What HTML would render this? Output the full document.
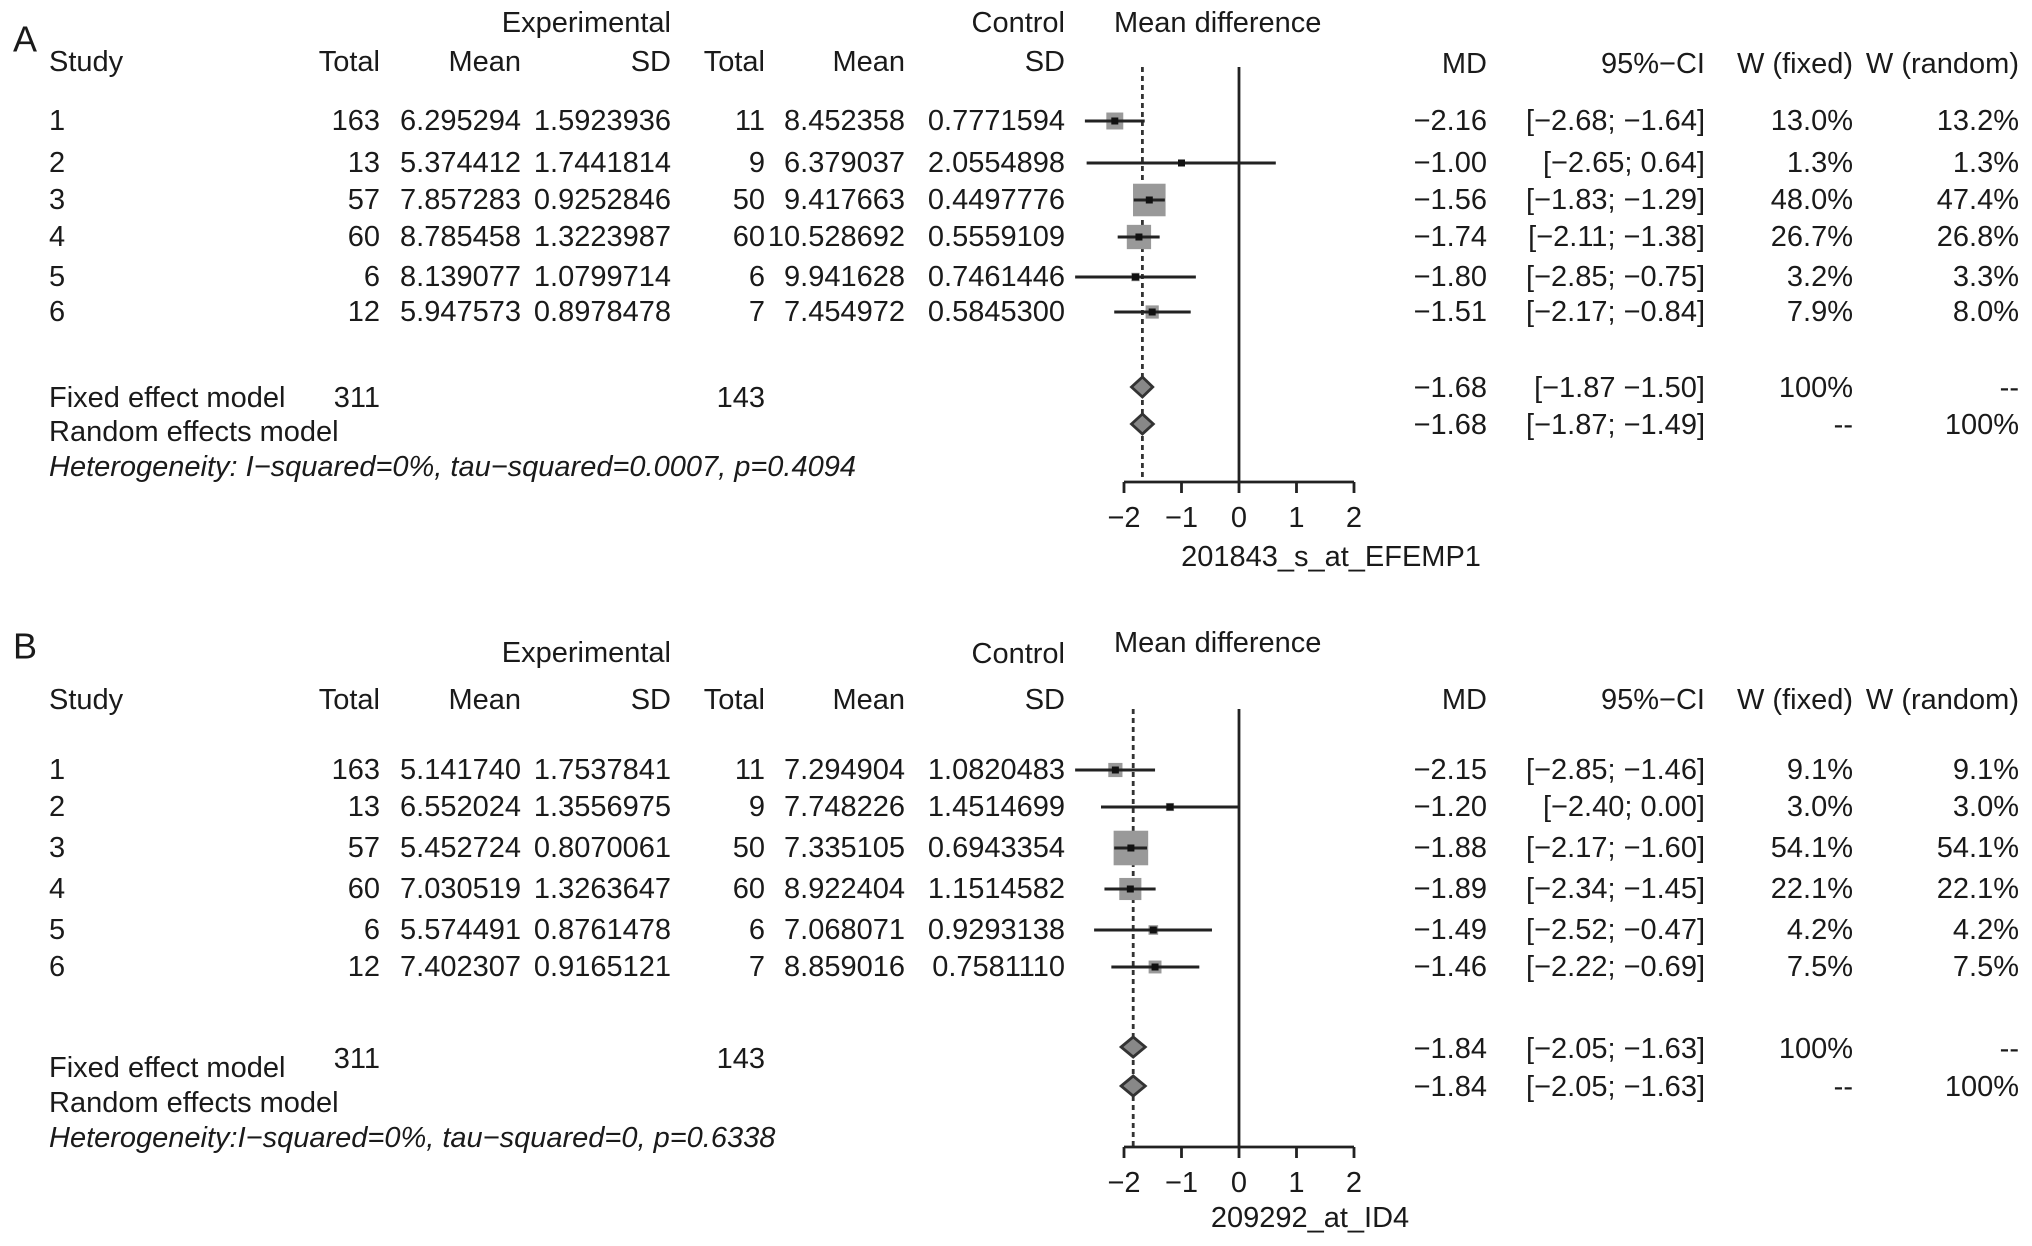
<!DOCTYPE html>
<html><head><meta charset="utf-8"><style>
html,body{margin:0;padding:0;background:#fff;}
svg{display:block;font-family:"Liberation Sans",Arial,sans-serif;}
text{font-size:29px;fill:#1a1a1a;letter-spacing:0px;}
</style></head><body>
<svg id="fig" width="2032" height="1246" viewBox="0 0 2032 1246" xmlns="http://www.w3.org/2000/svg"></svg>
<script>
// ---- Panel A data ----
const studiesA = ["1","2","3","4","5","6"];
const expTotalA = ["163","13","57","60","6","12"];
const expMeanA = ["6.295294","5.374412","7.857283","8.785458","8.139077","5.947573"];
const expSDA = ["1.5923936","1.7441814","0.9252846","1.3223987","1.0799714","0.8978478"];
const ctlTotalA = ["11","9","50","60","6","7"];
const ctlMeanA = ["8.452358","6.379037","9.417663","10.528692","9.941628","7.454972"];
const ctlSDA = ["0.7771594","2.0554898","0.4497776","0.5559109","0.7461446","0.5845300"];
const mdA = [-2.16,-1.00,-1.56,-1.74,-1.80,-1.51];
const lowA = [-2.68,-2.65,-1.83,-2.11,-2.85,-2.17];
const highA = [-1.64,0.64,-1.29,-1.38,-0.75,-0.84];
const wFixedA = [13.0,1.3,48.0,26.7,3.2,7.9];
const wRandA = [13.2,1.3,47.4,26.8,3.3,8.0];
const ciTextA = ["[−2.68; −1.64]","[−2.65; 0.64]","[−1.83; −1.29]","[−2.11; −1.38]","[−2.85; −0.75]","[−2.17; −0.84]"];
const pooledMdA = [-1.68,-1.68];
const pooledLowA = [-1.87,-1.87];
const pooledHighA = [-1.50,-1.49];
const pooledCiA = ["[−1.87 −1.50]","[−1.87; −1.49]"];
// ---- Panel B data ----
const studiesB = ["1","2","3","4","5","6"];
const expTotalB = ["163","13","57","60","6","12"];
const expMeanB = ["5.141740","6.552024","5.452724","7.030519","5.574491","7.402307"];
const expSDB = ["1.7537841","1.3556975","0.8070061","1.3263647","0.8761478","0.9165121"];
const ctlTotalB = ["11","9","50","60","6","7"];
const ctlMeanB = ["7.294904","7.748226","7.335105","8.922404","7.068071","8.859016"];
const ctlSDB = ["1.0820483","1.4514699","0.6943354","1.1514582","0.9293138","0.7581110"];
const mdB = [-2.15,-1.20,-1.88,-1.89,-1.49,-1.46];
const lowB = [-2.85,-2.40,-2.17,-2.34,-2.52,-2.22];
const highB = [-1.46,0.00,-1.60,-1.45,-0.47,-0.69];
const wFixedB = [9.1,3.0,54.1,22.1,4.2,7.5];
const wRandB = [9.1,3.0,54.1,22.1,4.2,7.5];
const ciTextB = ["[−2.85; −1.46]","[−2.40; 0.00]","[−2.17; −1.60]","[−2.34; −1.45]","[−2.52; −0.47]","[−2.22; −0.69]"];
const pooledMdB = [-1.84,-1.84];
const pooledLowB = [-2.05,-2.05];
const pooledHighB = [-1.63,-1.63];
const pooledCiB = ["[−2.05; −1.63]","[−2.05; −1.63]"];
const ticks = [-2,-1,0,1,2];

const NS="http://www.w3.org/2000/svg";
const svg=document.getElementById('fig');
function mk(tag,attrs,parent){const e=document.createElementNS(NS,tag);for(const k in attrs)e.setAttribute(k,attrs[k]);(parent||svg).appendChild(e);return e;}
function txt(s,x,y,anchor,g,extra){const t=mk('text',Object.assign({x:x,y:y,'text-anchor':anchor||'start','dominant-baseline':'central'},extra||{}),g);t.textContent=s;return t;}
function fmt(v){return (v<0?'−':'')+Math.abs(v).toFixed(2);}

function panel(P){
  const g=mk('g',{});
  
  
  const xs=v=>P.x0+v*P.unit;
  let t=txt(P.letter,13,P.letterY,'start',g,{style:'font-size:36px'});
  
  t=txt('Experimental',671,P.expHdrY,'end',g);
  t=txt('Control',1065,P.ctlHdrY,'end',g);
  t=txt('Mean difference',1114,P.mdHdrY,'start',g);
  const hdr=[['Study',49,'start'],['Total',380,'end'],['Mean',521,'end'],['SD',671,'end'],['Total',765,'end'],['Mean',905,'end'],['SD',1065,'end']];
  hdr.forEach(h=>{const e=txt(h[0],h[1],P.colHdrY,h[2],g);});
  const hdr2=[['MD',1487],['95%−CI',1705],['W (fixed)',1853],['W (random)',2019]];
  hdr2.forEach(h=>{const e=txt(h[0],h[1],P.colHdr2Y,'end',g);});
  let l=mk('line',{x1:xs(0),x2:xs(0),y1:P.zeroTop,y2:P.axisY,stroke:'#222','stroke-width':2.8},g);
  
  l=mk('line',{x1:xs(P.pmd[0]),x2:xs(P.pmd[0]),y1:P.dashTop,y2:P.axisY,stroke:'#333','stroke-width':2.8,'stroke-dasharray':'5,4'},g);
  
  P.rowsY.forEach((y,i)=>{
    const cols=[[P.st[i],49,'start'],[P.et[i],380,'end'],[P.em[i],521,'end'],[P.es[i],671,'end'],[P.ct[i],765,'end'],[P.cm[i],905,'end'],[P.cs[i],1065,'end'],
      [fmt(P.md[i]),1487,'end'],[P.ci[i],1705,'end'],[P.wf[i].toFixed(1)+'%',1853,'end'],[P.wr[i].toFixed(1)+'%',2019,'end']];
    cols.forEach(c=>{const e=txt(c[0],c[1],y,c[2],g);});
    const s=4.7*Math.sqrt(P.wf[i]);
    const r=mk('rect',{x:xs(P.md[i])-s/2,y:y-s/2,width:s,height:s,fill:'#999'},g);
    
    const c=mk('line',{x1:xs(P.lo[i]),x2:xs(P.hi[i]),y1:y,y2:y,stroke:'#222','stroke-width':3},g);
    
    const d=mk('rect',{x:xs(P.md[i])-3.5,y:y-3.5,width:7,height:7,fill:'#111'},g);
    
  });
  const labels=['Fixed effect model','Random effects model'];
  const wfx=['100%','--'],wrx=['--','100%'];
  for(let k=0;k<2;k++){
    const y=P.poolY[k];
    let e=txt(labels[k],49,P.poolLabelY[k],'start',g);
    [[fmt(P.pmd[k]),1487],[P.pci[k],1705],[wfx[k],1853],[wrx[k],2019]].forEach(c=>{const t2=txt(c[0],c[1],P.poolTextY[k],'end',g);});
    const pts=[[xs(P.plo[k]),y],[xs(P.pmd[k]),y-10],[xs(P.phi[k]),y],[xs(P.pmd[k]),y+10]].map(p=>p.join(',')).join(' ');
    const dm=mk('polygon',{points:pts,fill:'#888',stroke:'#333','stroke-width':2.8},g);
    
  }
  let e=txt('311',380,P.totY,'end',g);
  e=txt('143',765,P.totY,'end',g);
  e=txt(P.het,49,P.hetY,'start',g,{'font-style':'italic'});
  const ax=mk('line',{x1:xs(ticks[0]),x2:xs(ticks[ticks.length-1]),y1:P.axisY,y2:P.axisY,stroke:'#222','stroke-width':2.8},g);
  
  ticks.forEach(v=>{
    const tk=mk('line',{x1:xs(v),x2:xs(v),y1:P.axisY,y2:P.axisY+11,stroke:'#222','stroke-width':2.8},g);
    
    const tl=txt(v<0?'−'+Math.abs(v):String(v),xs(v),P.axisY+36,'middle',g);
    
  });
  e=txt(P.title,P.titleX,P.titleY,'middle',g);
}

panel({name:'panel-a',letter:'A',letterY:39,expHdrY:23,ctlHdrY:23,mdHdrY:23,colHdrY:62,colHdr2Y:64,
  x0:1239,unit:57.5,zeroTop:67,dashTop:67,axisY:482,
  rowsY:[121,163,200,237,277,312],poolY:[387,424],poolLabelY:[398,432],poolTextY:[388,425],totY:398,hetY:467,
  st:studiesA,et:expTotalA,em:expMeanA,es:expSDA,ct:ctlTotalA,cm:ctlMeanA,cs:ctlSDA,md:mdA,lo:lowA,hi:highA,ci:ciTextA,wf:wFixedA,wr:wRandA,
  pmd:pooledMdA,plo:pooledLowA,phi:pooledHighA,pci:pooledCiA,
  het:'Heterogeneity: I−squared=0%, tau−squared=0.0007, p=0.4094',title:'201843_s_at_EFEMP1',titleX:1331,titleY:557});
panel({name:'panel-b',letter:'B',letterY:646,expHdrY:653,ctlHdrY:654,mdHdrY:643,colHdrY:700,colHdr2Y:700,
  x0:1239,unit:57.5,zeroTop:709,dashTop:709,axisY:1147,
  rowsY:[770,807,848,889,930,967],poolY:[1047,1086],poolLabelY:[1068,1103],poolTextY:[1049,1087],totY:1059,hetY:1138,
  st:studiesB,et:expTotalB,em:expMeanB,es:expSDB,ct:ctlTotalB,cm:ctlMeanB,cs:ctlSDB,md:mdB,lo:lowB,hi:highB,ci:ciTextB,wf:wFixedB,wr:wRandB,
  pmd:pooledMdB,plo:pooledLowB,phi:pooledHighB,pci:pooledCiB,
  het:'Heterogeneity:I−squared=0%, tau−squared=0, p=0.6338',title:'209292_at_ID4',titleX:1310,titleY:1218});
</script>
</body></html>
